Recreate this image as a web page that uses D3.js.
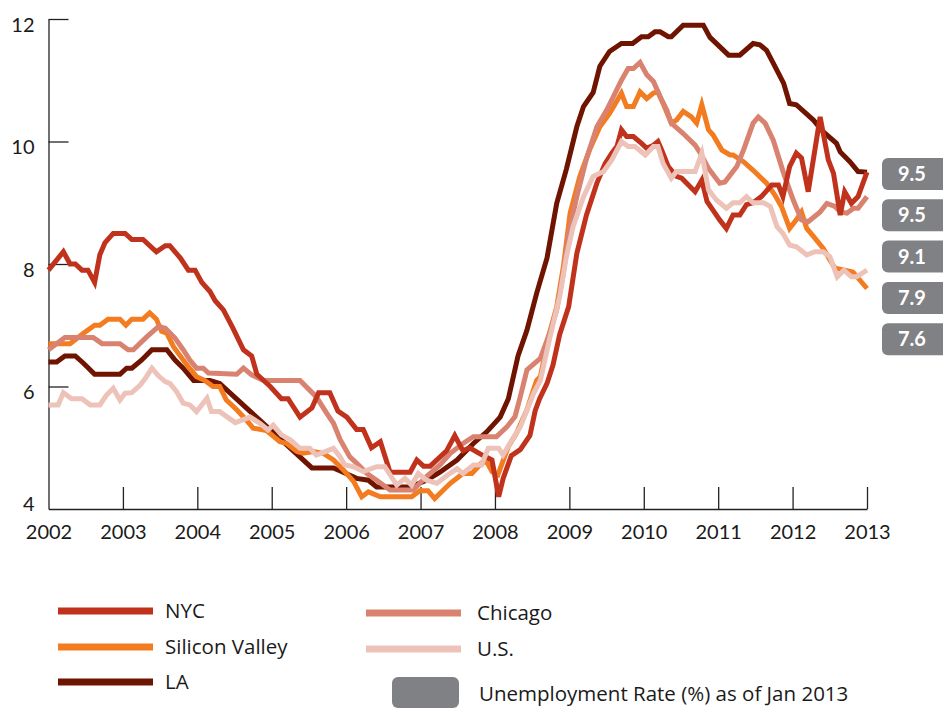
<!DOCTYPE html>
<html>
<head>
<meta charset="utf-8">
<script src="https://cdn.jsdelivr.net/npm/d3@7"></script>
<style>
  body { margin: 0; background: #fff; }
  svg { display: block; font-family: Lato, "Open Sans", sans-serif; }
</style>
</head>
<body>
<svg id="root" width="943" height="715"></svg>
<script>
// [decimal year, unemployment rate %]
const nyc = [
  [2002.0, 7.9], [2002.2, 8.2], [2002.29, 8.0], [2002.36, 8.0], [2002.45, 7.9], [2002.53, 7.9],
  [2002.62, 7.7], [2002.69, 8.15], [2002.76, 8.35], [2002.87, 8.5], [2003.03, 8.5], [2003.12, 8.4],
  [2003.27, 8.4], [2003.45, 8.2], [2003.57, 8.3], [2003.63, 8.3], [2003.77, 8.1], [2003.88, 7.9],
  [2003.97, 7.9], [2004.06, 7.7], [2004.17, 7.55], [2004.24, 7.4], [2004.35, 7.25], [2004.48, 6.95],
  [2004.62, 6.6], [2004.73, 6.5], [2004.8, 6.2], [2004.98, 6.0], [2005.13, 5.8], [2005.22, 5.8],
  [2005.38, 5.5], [2005.54, 5.65], [2005.63, 5.9], [2005.78, 5.9], [2005.89, 5.6], [2006.01, 5.5],
  [2006.14, 5.3], [2006.23, 5.3], [2006.34, 5.0], [2006.46, 5.1], [2006.59, 4.6], [2006.86, 4.6],
  [2006.95, 4.8], [2007.04, 4.7], [2007.13, 4.7], [2007.35, 4.95], [2007.46, 5.2], [2007.57, 4.95],
  [2007.66, 5.0], [2007.8, 4.9], [2007.96, 4.8], [2008.05, 4.2], [2008.11, 4.5], [2008.22, 4.87],
  [2008.34, 4.97], [2008.47, 5.2], [2008.54, 5.6], [2008.6, 5.8], [2008.7, 6.05], [2008.78, 6.35],
  [2008.87, 6.85], [2008.99, 7.3], [2009.1, 8.17], [2009.23, 8.8], [2009.37, 9.32], [2009.48, 9.64],
  [2009.57, 9.81], [2009.64, 9.92], [2009.7, 10.19], [2009.77, 10.08], [2009.86, 10.08], [2009.97, 9.97],
  [2010.04, 9.89], [2010.13, 9.94], [2010.19, 10.0], [2010.24, 9.86], [2010.33, 9.59], [2010.44, 9.43],
  [2010.51, 9.4], [2010.69, 9.18], [2010.78, 9.37], [2010.85, 9.02], [2010.93, 8.88], [2011.02, 8.72],
  [2011.11, 8.58], [2011.2, 8.8], [2011.29, 8.8], [2011.38, 8.97], [2011.47, 9.0], [2011.58, 9.1],
  [2011.72, 9.29], [2011.81, 9.29], [2011.87, 9.1], [2011.96, 9.59], [2012.05, 9.81], [2012.12, 9.73],
  [2012.21, 9.18], [2012.37, 10.4], [2012.48, 9.7], [2012.55, 9.48], [2012.64, 8.8], [2012.7, 9.18],
  [2012.79, 8.99], [2012.88, 9.1], [2013.0, 9.5]
];
const siliconValley = [
  [2002.0, 6.7], [2002.29, 6.7], [2002.47, 6.87], [2002.62, 7.0], [2002.69, 7.0], [2002.8, 7.1],
  [2002.96, 7.1], [2003.04, 7.0], [2003.12, 7.1], [2003.27, 7.1], [2003.36, 7.2], [2003.45, 7.1],
  [2003.52, 6.9], [2003.59, 6.87], [2003.68, 6.65], [2003.77, 6.5], [2003.88, 6.32], [2003.99, 6.16],
  [2004.1, 6.1], [2004.21, 6.0], [2004.3, 6.0], [2004.39, 5.78], [2004.53, 5.62], [2004.66, 5.45],
  [2004.75, 5.32], [2004.93, 5.28], [2005.11, 5.1], [2005.2, 5.07], [2005.34, 4.94], [2005.42, 4.91],
  [2005.56, 4.94], [2005.69, 4.91], [2005.83, 4.8], [2005.96, 4.64], [2006.1, 4.45], [2006.21, 4.2],
  [2006.3, 4.28], [2006.46, 4.2], [2006.88, 4.2], [2006.99, 4.3], [2007.1, 4.3], [2007.19, 4.17],
  [2007.4, 4.42], [2007.57, 4.58], [2007.69, 4.58], [2007.82, 4.75], [2007.89, 4.77], [2007.96, 4.61],
  [2008.04, 4.56], [2008.18, 5.02], [2008.29, 5.24], [2008.43, 5.62], [2008.56, 6.1], [2008.61, 6.16],
  [2008.72, 6.81], [2008.83, 7.3], [2008.92, 7.96], [2009.01, 8.83], [2009.14, 9.43], [2009.27, 9.86],
  [2009.41, 10.24], [2009.54, 10.46], [2009.7, 10.79], [2009.77, 10.57], [2009.86, 10.57], [2009.95, 10.81],
  [2010.04, 10.7], [2010.13, 10.79], [2010.19, 10.81], [2010.26, 10.62], [2010.37, 10.3], [2010.44, 10.35],
  [2010.53, 10.49], [2010.64, 10.4], [2010.71, 10.3], [2010.78, 10.6], [2010.87, 10.19], [2010.93, 10.11],
  [2011.05, 9.86], [2011.16, 9.78], [2011.2, 9.78], [2011.34, 9.67], [2011.47, 9.53], [2011.65, 9.32],
  [2011.76, 9.13], [2011.85, 8.94], [2011.96, 8.58], [2012.05, 8.72], [2012.12, 8.85], [2012.19, 8.58],
  [2012.28, 8.45], [2012.41, 8.26], [2012.5, 8.07], [2012.57, 7.93], [2012.7, 7.9], [2012.81, 7.87],
  [2013.0, 7.6]
];
const la = [
  [2002.0, 6.4], [2002.11, 6.4], [2002.22, 6.5], [2002.36, 6.5], [2002.47, 6.38], [2002.62, 6.2],
  [2002.96, 6.2], [2003.05, 6.3], [2003.12, 6.3], [2003.25, 6.43], [2003.39, 6.6], [2003.59, 6.6],
  [2003.7, 6.43], [2003.81, 6.3], [2003.95, 6.1], [2004.17, 6.1], [2004.3, 6.05], [2005.54, 4.67],
  [2005.83, 4.67], [2005.96, 4.6], [2006.14, 4.5], [2006.3, 4.47], [2006.41, 4.36], [2006.86, 4.36],
  [2007.08, 4.47], [2007.26, 4.6], [2007.49, 4.8], [2007.71, 5.07], [2007.89, 5.26], [2008.07, 5.5],
  [2008.18, 5.8], [2008.31, 6.5], [2008.43, 6.92], [2008.56, 7.52], [2008.7, 8.1], [2008.83, 8.99],
  [2008.96, 9.55], [2009.1, 10.24], [2009.19, 10.57], [2009.32, 10.8], [2009.41, 11.23], [2009.54, 11.47],
  [2009.7, 11.6], [2009.85, 11.6], [2009.97, 11.71], [2010.06, 11.71], [2010.15, 11.79], [2010.22, 11.79],
  [2010.33, 11.71], [2010.37, 11.71], [2010.53, 11.9], [2010.8, 11.9], [2010.89, 11.7], [2011.14, 11.41],
  [2011.29, 11.41], [2011.47, 11.6], [2011.56, 11.58], [2011.65, 11.49], [2011.74, 11.28], [2011.88, 10.95],
  [2011.96, 10.62], [2012.05, 10.6], [2012.28, 10.35], [2012.41, 10.16], [2012.59, 9.97], [2012.64, 9.83],
  [2012.77, 9.67], [2012.88, 9.51], [2013.0, 9.5]
];
const chicago = [
  [2002.0, 6.6], [2002.22, 6.8], [2002.6, 6.8], [2002.72, 6.7], [2002.96, 6.7], [2003.07, 6.6],
  [2003.14, 6.6], [2003.32, 6.81], [2003.48, 6.98], [2003.57, 6.95], [2003.7, 6.79], [2003.81, 6.6],
  [2003.9, 6.43], [2003.99, 6.3], [2004.08, 6.3], [2004.15, 6.22], [2004.53, 6.2], [2004.62, 6.3],
  [2004.73, 6.19], [2004.89, 6.1], [2005.38, 6.1], [2005.6, 5.83], [2005.74, 5.56], [2005.83, 5.4],
  [2005.92, 5.13], [2006.05, 4.85], [2006.14, 4.75], [2006.28, 4.58], [2006.41, 4.47], [2006.59, 4.31],
  [2006.9, 4.31], [2007.08, 4.53], [2007.26, 4.72], [2007.4, 4.91], [2007.57, 5.07], [2007.71, 5.18],
  [2008.02, 5.18], [2008.16, 5.34], [2008.27, 5.51], [2008.34, 5.83], [2008.43, 6.27], [2008.61, 6.46],
  [2008.74, 6.89], [2008.83, 7.25], [2008.92, 7.85], [2008.99, 8.5], [2009.1, 9.1], [2009.23, 9.72],
  [2009.37, 10.24], [2009.5, 10.51], [2009.59, 10.73], [2009.7, 11.0], [2009.79, 11.19], [2009.86, 11.19],
  [2009.95, 11.29], [2010.04, 11.09], [2010.13, 10.98], [2010.22, 10.73], [2010.31, 10.51], [2010.37, 10.3],
  [2010.53, 10.13], [2010.69, 9.94], [2010.76, 9.81], [2010.87, 9.56], [2011.02, 9.32], [2011.09, 9.34],
  [2011.25, 9.59], [2011.34, 9.86], [2011.47, 10.3], [2011.54, 10.4], [2011.63, 10.3], [2011.74, 10.02],
  [2011.88, 9.48], [2012.01, 9.04], [2012.12, 8.72], [2012.21, 8.69], [2012.37, 8.85], [2012.46, 8.99],
  [2012.57, 8.94], [2012.64, 8.85], [2012.73, 8.83], [2012.82, 8.91], [2012.88, 8.91], [2013.0, 9.1]
];
const us = [
  [2002.0, 5.7], [2002.13, 5.7], [2002.2, 5.9], [2002.31, 5.8], [2002.45, 5.8], [2002.56, 5.7],
  [2002.69, 5.7], [2002.78, 5.86], [2002.87, 5.97], [2002.96, 5.78], [2003.03, 5.89], [2003.12, 5.9],
  [2003.23, 6.02], [2003.3, 6.13], [2003.39, 6.3], [2003.48, 6.17], [2003.57, 6.08], [2003.63, 6.05],
  [2003.72, 5.92], [2003.81, 5.73], [2003.9, 5.7], [2003.99, 5.59], [2004.13, 5.81], [2004.19, 5.59],
  [2004.3, 5.59], [2004.51, 5.41], [2004.71, 5.5], [2004.84, 5.4], [2004.95, 5.29], [2005.02, 5.37],
  [2005.13, 5.21], [2005.25, 5.13], [2005.38, 4.99], [2005.51, 4.99], [2005.6, 4.88], [2005.83, 4.99],
  [2005.92, 4.85], [2005.98, 4.72], [2006.1, 4.69], [2006.23, 4.61], [2006.41, 4.69], [2006.52, 4.69],
  [2006.68, 4.39], [2006.79, 4.5], [2006.88, 4.39], [2006.97, 4.58], [2007.08, 4.47], [2007.22, 4.42],
  [2007.37, 4.56], [2007.49, 4.66], [2007.57, 4.58], [2007.71, 4.72], [2007.82, 4.72], [2007.91, 4.99],
  [2008.05, 4.99], [2008.11, 4.88], [2008.2, 5.07], [2008.34, 5.34], [2008.52, 5.89], [2008.61, 6.1],
  [2008.74, 6.81], [2008.87, 7.47], [2008.96, 8.12], [2009.05, 8.61], [2009.19, 9.1], [2009.32, 9.43],
  [2009.46, 9.51], [2009.57, 9.7], [2009.7, 10.0], [2009.79, 9.92], [2009.88, 9.92], [2010.02, 9.78],
  [2010.13, 9.92], [2010.19, 9.92], [2010.26, 9.64], [2010.37, 9.4], [2010.44, 9.51], [2010.69, 9.51],
  [2010.78, 9.81], [2010.87, 9.21], [2010.98, 9.04], [2011.11, 8.91], [2011.2, 9.0], [2011.29, 9.0],
  [2011.38, 9.1], [2011.47, 9.0], [2011.61, 9.0], [2011.7, 8.94], [2011.79, 8.61], [2011.87, 8.5],
  [2011.96, 8.31], [2012.05, 8.28], [2012.19, 8.15], [2012.3, 8.2], [2012.41, 8.2], [2012.5, 8.12],
  [2012.6, 7.79], [2012.69, 7.9], [2012.79, 7.79], [2012.86, 7.79], [2013.0, 7.9]
];

const yearTicks = [2002, 2003, 2004, 2005, 2006, 2007, 2008, 2009, 2010, 2011, 2012, 2013];
const rateTicks = [4, 6, 8, 10, 12];
const jan2013Labels = [9.5, 9.5, 9.1, 7.9, 7.6];

const series = [
  { name: "LA", data: la, color: "#6f1401" },
  { name: "Silicon Valley", data: siliconValley, color: "#f47c20" },
  { name: "Chicago", data: chicago, color: "#d9826f" },
  { name: "NYC", data: nyc, color: "#c0321c" },
  { name: "U.S.", data: us, color: "#edc3b9" }
];
const legendCol1 = ["NYC", "Silicon Valley", "LA"];
const legendCol2 = ["Chicago", "U.S."];

const svg = d3.select("#root");
const x = d3.scaleLinear().domain([2002, 2013]).range([48.5, 867]);
const y = d3.scaleLinear().domain([4, 12]).range([509, 19]);

// x axis, ticks pointing up into the plot
const xAxis = svg.append("g")
  .attr("transform", "translate(0,509)")
  .call(d3.axisBottom(x).tickValues(yearTicks).tickFormat(d3.format("d"))
    .tickSizeInner(-22).tickSizeOuter(0).tickPadding(16));
xAxis.selectAll(".tick").filter(d => d === 2002).select("line").remove();

// y axis, ticks pointing right
const yAxis = svg.append("g")
  .attr("transform", "translate(48.5,0)")
  .call(d3.axisLeft(y).tickValues(rateTicks).tickFormat(d3.format("d"))
    .tickSizeInner(-20).tickSizeOuter(0).tickPadding(14));
yAxis.selectAll(".tick").filter(d => d === 4).select("line").remove();
yAxis.selectAll(".tick text").attr("dy", d => d === 4 ? "0.05em" : "0.62em");

svg.selectAll(".domain, .tick line").attr("stroke", "#222").attr("stroke-width", 1.3);
svg.selectAll(".tick text")
  .attr("font-size", 20).attr("fill", "#1a1a1a")
  .attr("font-family", "Lato, sans-serif");

// lines
const line = d3.line().x(d => x(d[0])).y(d => y(d[1]));
svg.append("g")
  .selectAll("path")
  .data(series)
  .join("path")
  .attr("d", d => line(d.data))
  .attr("fill", "none")
  .attr("stroke", d => d.color)
  .attr("stroke-width", 5);

// value boxes as of Jan 2013
const boxes = svg.append("g")
  .selectAll("g")
  .data(jan2013Labels)
  .join("g")
  .attr("transform", (d, i) => `translate(882, ${158 + i * 41.3})`);
boxes.append("rect")
  .attr("width", 72).attr("height", 32).attr("rx", 6)
  .attr("fill", "#808184");
boxes.append("text")
  .attr("x", 30).attr("y", 16)
  .attr("dy", "0.36em")
  .attr("text-anchor", "middle")
  .attr("fill", "#fff")
  .attr("font-size", 20)
  .attr("font-weight", 700)
  .text(d => d3.format(".1f")(d));

// legend
const colorOf = name => series.find(s => s.name === name).color;
const legend = svg.append("g")
  .attr("font-family", "'Open Sans', sans-serif");
const legendRow = (g, names, lx, tx, ys) => {
  names.forEach((n, i) => {
    g.append("line")
      .attr("x1", lx).attr("x2", lx + 95)
      .attr("y1", ys[i]).attr("y2", ys[i])
      .attr("stroke", colorOf(n)).attr("stroke-width", 7);
    g.append("text")
      .attr("x", tx).attr("y", ys[i])
      .attr("dy", "0.35em")
      .attr("font-size", 20.5).attr("fill", "#1a1a1a")
      .text(n);
  });
};
legendRow(legend, legendCol1, 58, 165, [611, 647, 682]);
legendRow(legend, legendCol2, 366, 477, [613, 649]);

legend.append("rect")
  .attr("x", 392).attr("y", 677).attr("width", 67).attr("height", 31).attr("rx", 6)
  .attr("fill", "#808184");
legend.append("text")
  .attr("x", 479).attr("y", 694)
  .attr("dy", "0.35em")
  .attr("font-size", 20.5).attr("fill", "#1a1a1a")
  .text("Unemployment Rate (%) as of Jan 2013");
</script>
</body>
</html>
